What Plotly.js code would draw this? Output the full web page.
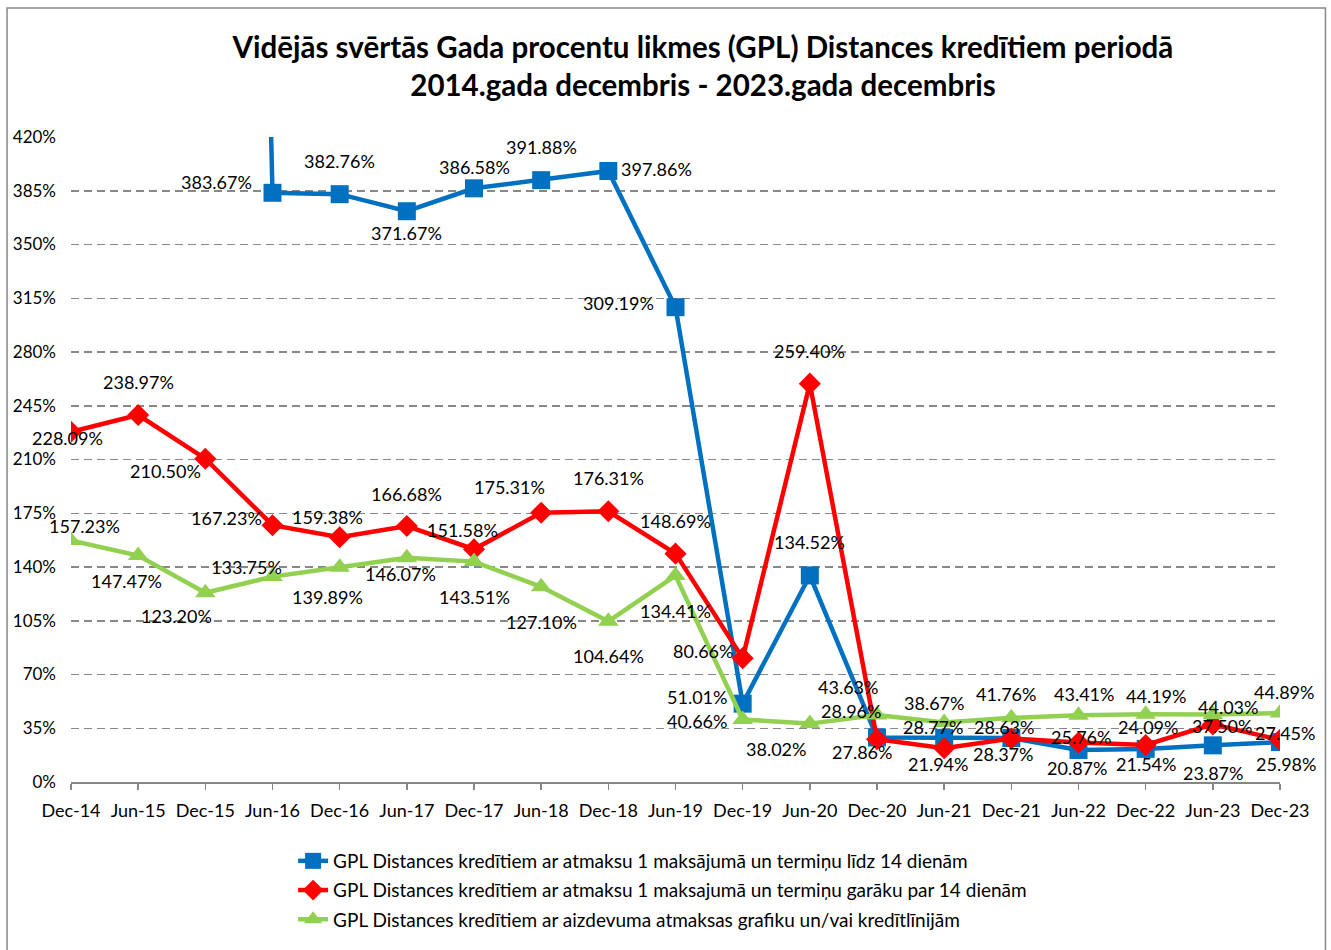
<!DOCTYPE html>
<html>
<head>
<meta charset="utf-8">
<script src="https://cdn.plot.ly/plotly-3.0.1.min.js"></script>
<style>
html,body{margin:0;padding:0;background:#fff;}
#chart{width:1331px;height:950px;}
</style>
</head>
<body>
<div id="chart"></div>
<script>
const categories = ["Dec-14","Jun-15","Dec-15","Jun-16","Dec-16","Jun-17","Dec-17","Jun-18","Dec-18","Jun-19","Dec-19","Jun-20","Dec-20","Jun-21","Dec-21","Jun-22","Dec-22","Jun-23","Dec-23"];

// Blue: first three values lie above the 420% axis top (estimated, not labelled)
const seriesShort = [2500, 2400, 2200, 383.67, 382.76, 371.67, 386.58, 391.88, 397.86, 309.19, 51.01, 134.52, 28.96, 28.77, 28.63, 20.87, 21.54, 23.87, 25.98];
const seriesLong = [228.09, 238.97, 210.50, 167.23, 159.38, 166.68, 151.58, 175.31, 176.31, 148.69, 80.66, 259.40, 27.86, 21.94, 28.37, 25.76, 24.09, 37.50, 27.45];
const seriesCredit = [157.23, 147.47, 123.20, 133.75, 139.89, 146.07, 143.51, 127.10, 104.64, 134.41, 40.66, 38.02, 43.63, 38.67, 41.76, 43.41, 44.19, 44.03, 44.89];

const seriesNames = [
  "GPL Distances kredītiem ar atmaksu 1 maksājumā un termiņu līdz 14 dienām",
  "GPL Distances kredītiem ar atmaksu 1 maksajumā un termiņu garāku par 14 dienām",
  "GPL Distances kredītiem ar aizdevuma atmaksas grafiku un/vai kredītlīnijām"
];
const yTicks = [0, 35, 70, 105, 140, 175, 210, 245, 280, 315, 350, 385, 420];

// data label offsets in pixels [dx, dy] (styling only)
const offShort = [[0,0],[0,0],[0,0],[-56,11],[0,33],[0,-22],[0,21],[0,33],[48,2],[-57,4],[-46,7],[0,33],[-26,27],[-11,11],[-7,11],[-2,-18],[0,-15],[0,-28],[6,-22]];
const offLong = [[-4,-6],[0,33],[-40,-12],[-46,7],[-12,20],[0,32],[-12,19],[-32,26],[0,33],[0,33],[-40,7],[0,33],[-15,-13],[-6,-16],[-8,-16],[2,5],[2,18],[9,-2],[5,7]];
const offCredit = [[13,15],[-12,-25],[-29,-23],[-26,10],[-12,-30],[-6,-16],[0,-35],[0,-35],[0,-35],[0,-35],[-46,-1],[-34,-25],[-29,28],[-10,20],[-5,24],[5,21],[10,18],[15,7],[4,21]];

const fmt = v => v.toFixed(2) + "%";
const FONT = "Lato, 'Liberation Sans', sans-serif";
const Y_MAX = 420;

function mk(y, name, color, symbol, size) {
  return {
    x: categories, y: y, name: name, type: "scatter", mode: "lines+markers",
    line: {color: color, width: 4.5},
    marker: {color: color, symbol: symbol, size: size},
    cliponaxis: true, legendgroup: name
  };
}

function labels(y, off) {
  const out = [];
  y.forEach((v, i) => {
    if (v > Y_MAX) return;
    out.push({
      x: categories[i], y: v, xref: "x", yref: "y", text: fmt(v), showarrow: false,
      xanchor: "center", yanchor: "middle", xshift: off[i][0], yshift: off[i][1],
      font: {family: FONT, size: 18, color: "#000"}
    });
  });
  return out;
}

const data = [
  mk(seriesShort, seriesNames[0], "#0070C0", "square", 18),
  mk(seriesLong, seriesNames[1], "#FF0000", "diamond", 17),
  mk(seriesCredit, seriesNames[2], "#92D050", "triangle-up", 18)
];

const layout = {
  width: 1331, height: 950,
  margin: {l: 71, r: 51, t: 137, b: 168},
  paper_bgcolor: "#fff", plot_bgcolor: "#fff",
  font: {family: FONT, color: "#000"},
  title: {
    text: "<b>Vidējās svērtās Gada procentu likmes (GPL) Distances kredītiem periodā<br>2014.gada decembris - 2023.gada decembris</b>",
    font: {family: FONT, size: 29.5, color: "#000"},
    x: 0.5227, xref: "paper", xanchor: "center",
    y: 0.939, yref: "container", yanchor: "middle"
  },
  xaxis: {
    type: "category", range: [0, 18], showgrid: false,
    showline: true, linecolor: "#868686", linewidth: 1.5,
    ticks: "outside", ticklen: 6, tickcolor: "#868686", tickwidth: 1.5,
    ticklabelstandoff: 6,
    tickfont: {family: FONT, size: 18, color: "#000"}, zeroline: false
  },
  yaxis: {
    range: [0, Y_MAX], tickvals: yTicks, ticktext: yTicks.map(v => v + "%"),
    showgrid: true, gridcolor: "#888", gridwidth: 1.5, griddash: "8px,5px",
    showline: false, zeroline: false, ticks: "", ticklabelstandoff: 14,
    tickfont: {family: FONT, size: 17, color: "#000"}
  },
  showlegend: true,
  legend: {
    x: 0.1837, xanchor: "left", xref: "paper",
    y: 0.1137, yanchor: "top", yref: "container",
    orientation: "v", tracegroupgap: 1.5,
    font: {family: FONT, size: 19, color: "#000"}, bgcolor: "rgba(0,0,0,0)"
  },
  annotations: [].concat(labels(seriesShort, offShort), labels(seriesLong, offLong), labels(seriesCredit, offCredit)),
  shapes: [{
    type: "rect", xref: "paper", yref: "paper",
    x0: -0.0529, x1: 1.0376, y0: -0.3, y1: 1.2, line: {color: "#888", width: 1.5}, layer: "below"
  }]
};

Plotly.newPlot("chart", data, layout, {displayModeBar: false, staticPlot: true});
</script>
</body>
</html>
